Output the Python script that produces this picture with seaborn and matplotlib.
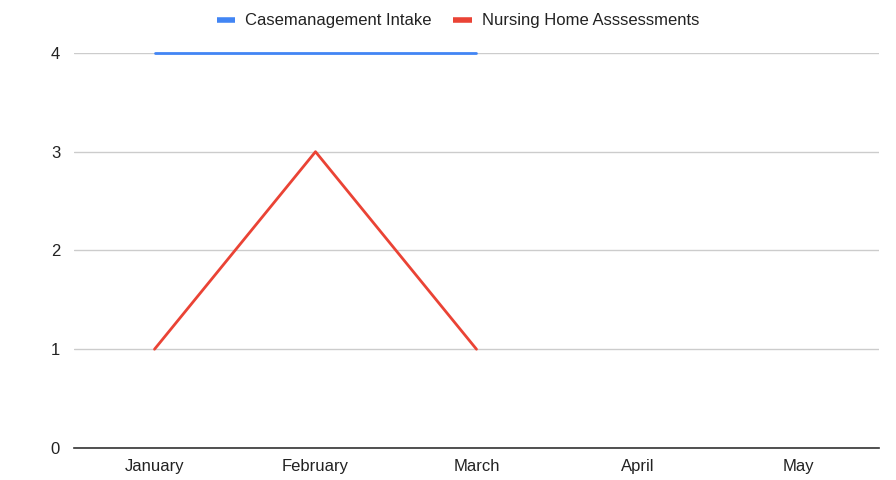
import numpy as np
import pandas as pd
import seaborn as sns
import matplotlib.pyplot as plt

months = ['January', 'February', 'March', 'April', 'May']
intake = [4, 4, 4, np.nan, np.nan]
nursing = [1, 3, 1, np.nan, np.nan]
series = ['Casemanagement Intake', 'Nursing Home Asssessments']
colors = ['#4285F4', '#EA4335']

df = pd.DataFrame({
    'month': months * 2,
    'value': intake + nursing,
    'series': [series[0]] * len(months) + [series[1]] * len(months),
})

sns.set_style('white')
plt.rcParams['font.family'] = ['Liberation Sans', 'DejaVu Sans']

fig = plt.figure(figsize=(8.96, 4.8), dpi=100)
ax = fig.add_axes([0.0826, 0.0667, 0.8984, 0.823])

sns.lineplot(
        df,
        x='month',
        y='value',
        hue='series',
        palette=colors,
        linewidth=2,
        sort=False,
        ax=ax,
)

ax.set_xlim(-0.5, 4.5)
ax.set_ylim(0, 4)
ax.set_yticks([0, 1, 2, 3, 4])
ax.set_xlabel('')
ax.set_ylabel('')
ax.grid(axis='y', color='#cccccc', linewidth=1)
ax.set_axisbelow(True)
for s in ['top', 'right', 'left']:
    ax.spines[s].set_visible(False)
ax.spines['bottom'].set_color('#333333')
ax.spines['bottom'].set_linewidth(1.2)
ax.tick_params(axis='both', length=0, labelsize=12, colors='#222222', pad=8)
ax.tick_params(axis='y', pad=10)
for line in ax.get_lines():
    line.set_clip_on(False)

handles, labels = ax.get_legend_handles_labels()
for h in handles:
    h.set_linewidth(4)
    h.set_solid_capstyle('butt')
ax.legend(handles, labels, loc='center', bbox_to_anchor=(0.477, 1.081),
          ncol=2, frameon=False, fontsize=12, handlelength=1.1,
          columnspacing=1.3, handletextpad=0.6, labelcolor='#222222')

fig.savefig('out.png', dpi=100)
